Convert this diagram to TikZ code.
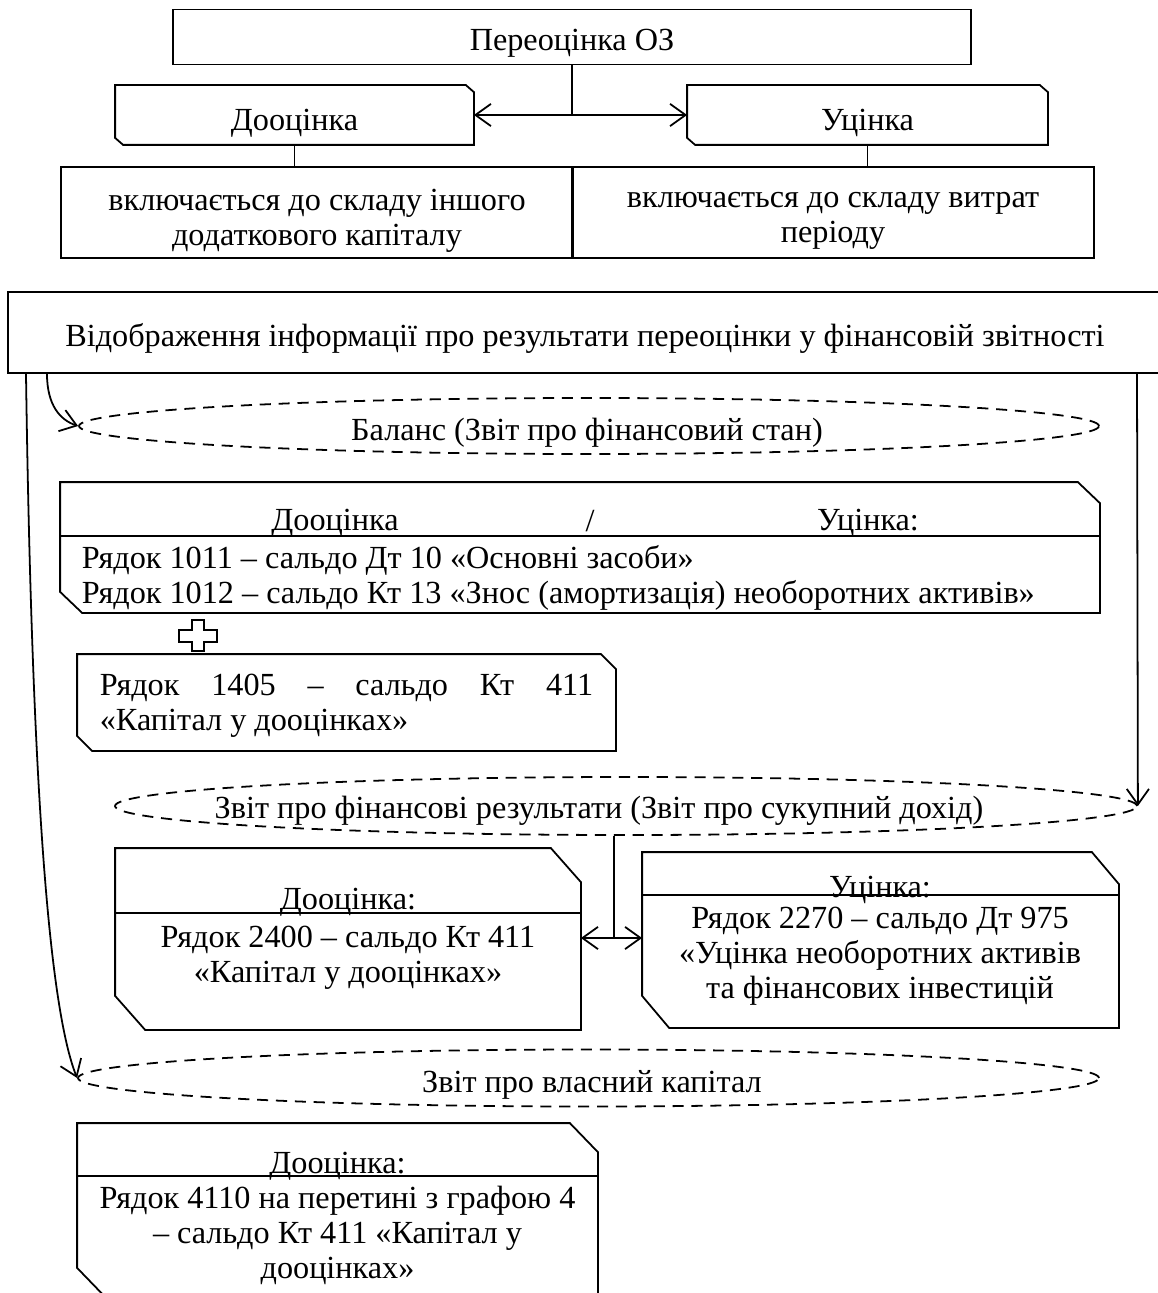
\documentclass[tikz,border=0pt]{standalone}
\usepackage{fontspec}
\setmainfont{Liberation Serif}
\usetikzlibrary{shapes.geometric}
\usetikzlibrary{arrows.meta}
\newcommand{\pxu}{0.45pt}
% outline with cut corners (north east, south west) round a node
\newcommand{\cutcorners}[3]{%
  \draw (#1.north west) -- ([xshift=-#2*\pxu]#1.north east) -- ([yshift=-#3*\pxu]#1.north east)
    -- (#1.south east) -- ([xshift=#2*\pxu]#1.south west) -- ([yshift=#3*\pxu]#1.south west) -- cycle;}
\tikzstyle{box} = [draw, rectangle, inner sep=0pt]
\tikzstyle{cut} = [rectangle, inner sep=0pt]
\tikzstyle{oval} = [draw, ellipse, inner sep=0pt, dash pattern=on 5pt off 3.5pt]
\tikzstyle{caption} = [inner sep=0pt, align=center]
\tikzset{>={Straight Barb[length=7pt,width=10pt]}}

\begin{document}
\begin{tikzpicture}[x=0.45pt, y=-0.45pt, line width=0.8pt, font=\fontsize{14.5}{15.75}\selectfont]
  \useasboundingbox (0,0) rectangle (1157,1293);
  % Revaluation
  \node[box, minimum width=798*\pxu, minimum height=55*\pxu] (reval) at (572,37) {};
  \node[caption] (revaltxt) at (572,43) {Переоцінка ОЗ};
  \node[cut, minimum width=357*\pxu, minimum height=58*\pxu] (up) at (294.5,115) {};
  \cutcorners{up}{8}{7}
  \node[caption] (uptxt) at (294.5,123) {Дооцінка};
  \node[cut, minimum width=359*\pxu, minimum height=58*\pxu] (down) at (867.5,115) {};
  \cutcorners{down}{8}{7}
  \node[caption] (downtxt) at (867.5,123) {Уцінка};
  \node[box, minimum width=512*\pxu, minimum height=91*\pxu] (upinc) at (317,212.5) {};
  \node[caption] (upinctxt) at (317,221) {включається до складу іншого\\додаткового капіталу};
  \node[box, minimum width=522*\pxu, minimum height=91*\pxu] (downinc) at (833,212.5) {};
  \node[caption] (downinctxt) at (833,221) {включається до складу витрат\\періоду};
  \draw (reval.south) -- (reval.south |- up.east);
  \draw[<->] (up.east) -- (down.west);
  \draw (up.south) -- (upinc.north -| up.south);
  \draw (down.south) -- (downinc.north -| down.south);

  % Reporting
  \node[box, minimum width=1162*\pxu, minimum height=81*\pxu] (rep) at (589,332.5) {};
  \node[caption] (reptxt) at (585,338) {Відображення інформації про результати переоцінки у фінансовій звітності};

  % Balance
  \node[oval, minimum width=1020*\pxu, minimum height=56*\pxu] (bal) at (589,426) {};
  \node[caption] (baltxt) at (587,433) {Баланс (Звіт про фінансовий стан)};
  \node[cut, minimum width=1038*\pxu, minimum height=129*\pxu] (balbox) at (580,547.5) {};
  \cutcorners{balbox}{22}{21}
  \draw (balbox.west |- 0,536) -- (balbox.east |- 0,536);
  \node[caption] (balup) at (335,523) {Дооцінка};
  \node[caption] (balsl) at (590,521) {/};
  \node[caption] (baldown) at (868,523) {Уцінка:};
  \node[caption, align=left, anchor=west] (balrows) at (81,578) {Рядок 1011 – сальдо Дт 10 «Основні засоби»\\Рядок 1012 – сальдо Кт 13 «Знос (амортизація) необоротних активів»};
  % plus sign
  \draw (192,620) -- (204,620) -- (204,630) -- (217,630) -- (217,642) -- (204,642) -- (204,651) -- (192,651) -- (192,642) -- (179,642) -- (179,630) -- (192,630) -- cycle;
  \node[cut, minimum width=537*\pxu, minimum height=95*\pxu] (capbal) at (346.5,702.5) {};
  \cutcorners{capbal}{15}{15}
  \node[caption, align=left] (capbaltxt) at (346.5,706) {\makebox[222pt][s]{Рядок 1405 – сальдо Кт 411}\\«Капітал у дооцінках»};

  % Financial results
  \node[oval, minimum width=1022*\pxu, minimum height=58*\pxu] (res) at (626,806) {};
  \node[caption] (restxt) at (599,811) {Звіт про фінансові результати (Звіт про сукупний дохід)};
  \node[cut, minimum width=464*\pxu, minimum height=180*\pxu] (resup) at (348,939) {};
  \cutcorners{resup}{30}{34}
  \draw (resup.west |- 0,913) -- (resup.east |- 0,913);
  \node[caption] (resuphd) at (348,902) {Дооцінка:};
  \node[caption] (resuptxt) at (348,957.5) {Рядок 2400 – сальдо Кт 411\\«Капітал у дооцінках»};
  \node[cut, minimum width=475*\pxu, minimum height=174*\pxu] (resdown) at (880.5,940) {};
  \cutcorners{resdown}{27}{32}
  \draw (resdown.west |- 0,895) -- (resdown.east |- 0,895);
  \node[caption] (resdownhd) at (880,890) {Уцінка:};
  \node[caption] (resdowntxt) at (880,956) {Рядок 2270 – сальдо Дт 975\\«Уцінка необоротних активів\\та фінансових інвестицій};
  \coordinate (fork) at (614,938);
  \draw (res.south -| fork) -- (fork);
  \draw[<->] (resup.east |- fork) -- (resdown.west |- fork);

  % Equity
  \node[oval, minimum width=1021*\pxu, minimum height=57*\pxu] (eq) at (588.5,1078) {};
  \node[caption] (eqtxt) at (592,1085) {Звіт про власний капітал};
  \node[cut, minimum width=519*\pxu, minimum height=172*\pxu] (eqbox) at (337.5,1210) {};
  \cutcorners{eqbox}{28}{29}
  \draw (eqbox.west |- 0,1176) -- (eqbox.east |- 0,1176);
  \node[caption] (eqhd) at (337.5,1166) {Дооцінка:};
  \node[caption] (eqrows) at (337.5,1235) {Рядок 4110 на перетині з графою 4\\– сальдо Кт 411 «Капітал у\\дооцінках»};

  % Links to the reports
  \draw[->] (47,0 |- rep.south) .. controls (47,405) and (60,420) .. (bal.west);
  \draw[->] (26,0 |- rep.south) .. controls (32,800) and (50,1010) .. (eq.west);
  \draw[->] (1137,0 |- rep.south) -- (res.east);
\end{tikzpicture}
\end{document}
